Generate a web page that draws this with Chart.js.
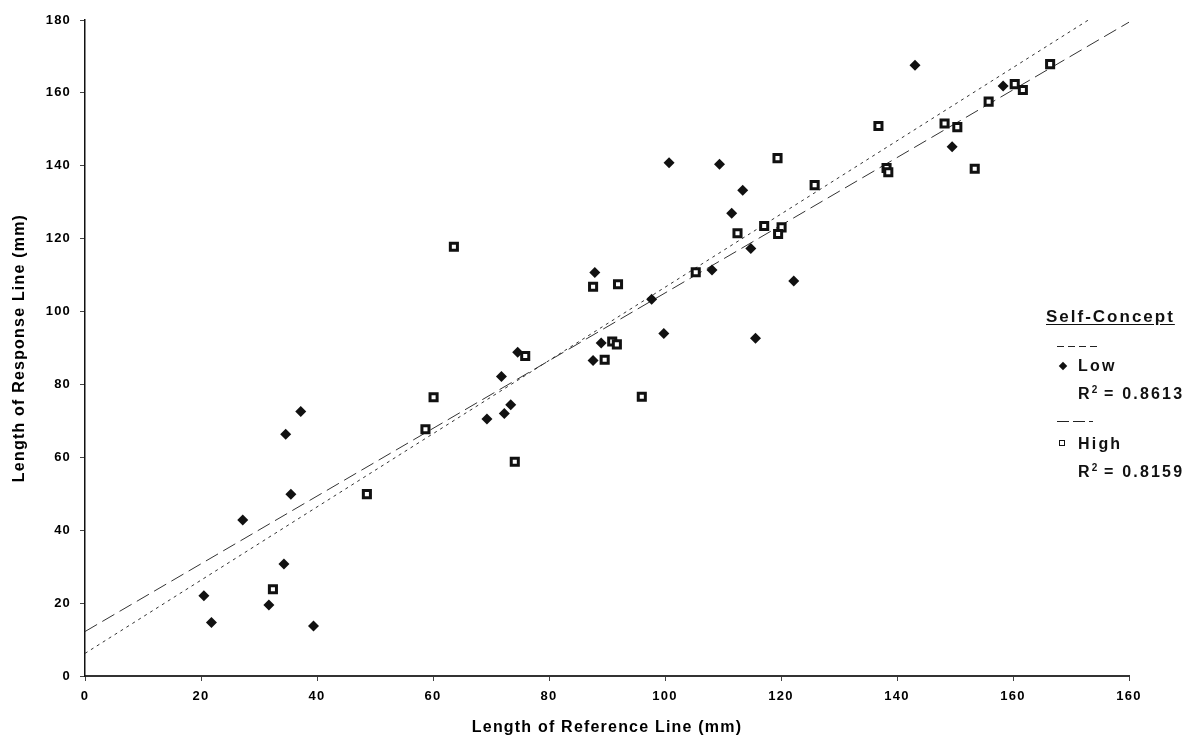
<!DOCTYPE html>
<html>
<head>
<meta charset="utf-8">
<title>Length of Response Line vs Length of Reference Line</title>
<script src="https://cdn.jsdelivr.net/npm/chart.js@4.4.1/dist/chart.umd.min.js"></script>
<style>
    html, body { margin: 0; padding: 0; background: #fff; }
    #wrap { position: relative; width: 1202px; height: 745px; }
    #chart { position: absolute; left: 0; top: 0; }
    .legend { position: absolute; left: 0; top: 0; font-family: "Liberation Sans", Arial, sans-serif; font-weight: bold; color: #111; }
    .legend div { position: absolute; white-space: nowrap; }
    .lg-title { left: 1046px; top: 307px; font-size: 17px; letter-spacing: 2px; text-decoration: underline; text-underline-offset: 2px; }
    .lg-text { font-size: 16px; letter-spacing: 2.2px; line-height: 18px; }
    .lg-text sup { font-size: 10px; letter-spacing: 0; vertical-align: 6px; line-height: 0; }
    .dash { height: 0; border-top: 1.5px solid #222; }
    .diamond { width: 6px; height: 6px; background: #111; transform: rotate(45deg); }
    .square { width: 4px; height: 4px; border: 1.5px solid #111; background: #fff; }
</style>
</head>
<body>
<div id="wrap">
    <canvas id="chart" width="1202" height="745"></canvas>
    <div class="legend">
        <div class="lg-title">Self-Concept</div>
        <div class="dash" style="left:1057px; top:346px; width:7px;"></div>
        <div class="dash" style="left:1068px; top:346px; width:7px;"></div>
        <div class="dash" style="left:1079px; top:346px; width:7px;"></div>
        <div class="dash" style="left:1090px; top:346px; width:7px;"></div>
        <div class="diamond" style="left:1060px; top:363px;"></div>
        <div class="lg-text" style="left:1078px; top:357px;">Low</div>
        <div class="lg-text" style="left:1078px; top:385px;">R<sup>2</sup> = 0.8613</div>
        <div class="dash" style="left:1057px; top:421px; width:12px;"></div>
        <div class="dash" style="left:1073px; top:421px; width:12px;"></div>
        <div class="dash" style="left:1089px; top:421px; width:4px;"></div>
        <div class="square" style="left:1059px; top:440px;"></div>
        <div class="lg-text" style="left:1078px; top:435px;">High</div>
        <div class="lg-text" style="left:1078px; top:463px;">R<sup>2</sup> = 0.8159</div>
    </div>
</div>
<script>
// Low self-concept group (filled diamonds)
const lowX = [20.5, 21.8, 27.2, 31.7, 34.3, 34.6, 35.5, 37.2, 39.4, 69.3,
              71.8, 72.3, 73.4, 74.6, 87.9, 87.6, 89.0, 97.7, 99.8, 100.7,
              108.1, 109.4, 111.5, 113.4, 114.8, 115.6, 122.2, 143.1, 149.5, 158.3];
const lowY = [22.0, 14.7, 42.8, 19.5, 30.7, 66.3, 49.9, 72.6, 13.7, 70.5,
              82.2, 72.0, 74.4, 88.8, 110.7, 86.6, 91.4, 103.4, 94.0, 140.8,
              111.4, 140.4, 127.0, 133.3, 117.3, 92.7, 108.4, 167.6, 145.2, 161.9];

// High self-concept group (open squares)
const highX = [32.4, 48.6, 58.7, 60.1, 63.6, 74.1, 75.9, 87.6, 89.6, 90.9,
               91.7, 91.9, 96.0, 105.3, 112.5, 117.1, 120.1, 119.5, 119.4, 125.8,
               136.8, 138.2, 138.5, 148.2, 150.4, 153.4, 155.8, 160.3, 161.7, 166.4];
const highY = [23.8, 49.9, 67.7, 76.5, 117.8, 58.8, 87.8, 106.8, 86.8, 91.8,
               91.0, 107.5, 76.6, 110.8, 121.5, 123.5, 123.1, 121.3, 142.1, 134.7,
               150.9, 139.4, 138.2, 151.6, 150.6, 139.2, 157.6, 162.4, 160.8, 167.9];

// linear trend lines (end points of each fitted line)
const lowTrendX = [0, 173];
const lowTrendY = [6.2, 180];
const highTrendX = [0, 180];
const highTrendY = [12.2, 179.4];

// tick labels as printed on the original (last x label repeats 160)
const xTickLabels = ["0", "20", "40", "60", "80", "100", "120", "140", "160", "160"];
const yTickLabels = ["0", "20", "40", "60", "80", "100", "120", "140", "160", "180"];

function toPoints(xs, ys) {
    return xs.map((x, i) => ({ x: x, y: ys[i] }));
}

const tickFont = { family: "'Liberation Sans', Arial, sans-serif", size: 13, weight: "bold" };
const titleFont = { family: "'Liberation Sans', Arial, sans-serif", size: 16, weight: "bold" };

// the original uses widely spaced bold type
const spacedText = {
    id: "spacedText",
    beforeDraw: function (chart) { chart.ctx.letterSpacing = "1.2px"; }
};

new Chart(document.getElementById("chart"), {
    type: "scatter",
    data: {
        datasets: [
            {
                label: "Low",
                data: toPoints(lowX, lowY),
                pointStyle: "rectRot",
                pointRadius: 5.5,
                backgroundColor: "#111",
                borderColor: "#111",
                borderWidth: 0,
                order: 1
            },
            {
                label: "High",
                data: toPoints(highX, highY),
                pointStyle: "rect",
                pointRadius: 5,
                backgroundColor: "#fff",
                borderColor: "#111",
                borderWidth: 3,
                order: 2
            },
            {
                label: "Low trend",
                data: toPoints(lowTrendX, lowTrendY),
                showLine: true,
                pointRadius: 0,
                borderColor: "#333",
                borderWidth: 1,
                borderDash: [3, 4],
                order: 3
            },
            {
                label: "High trend",
                data: toPoints(highTrendX, highTrendY),
                showLine: true,
                pointRadius: 0,
                borderColor: "#333",
                borderWidth: 1,
                borderDash: [14, 6],
                order: 4
            }
        ]
    },
    plugins: [spacedText],
    options: {
        responsive: false,
        animation: false,
        layout: { padding: { top: 20, right: 73, left: 0, bottom: 0 } },
        plugins: {
            legend: { display: false },
            tooltip: { enabled: false }
        },
        scales: {
            x: {
                type: "linear",
                min: 0,
                max: 180,
                afterFit: function (scale) { scale.height = 69; },
                afterBuildTicks: function (scale) {
                    scale.ticks = xTickLabels.map((t, i) => ({ value: i * 20 }));
                },
                ticks: {
                    callback: function (value, index) { return xTickLabels[index]; },
                    font: tickFont,
                    color: "#000",
                    padding: 8,
                    maxRotation: 0
                },
                grid: { drawOnChartArea: false, drawTicks: true, tickLength: 5, color: "#444" },
                border: { color: "#333", width: 2 },
                title: {
                    display: true,
                    text: "Length of Reference Line (mm)",
                    font: titleFont,
                    color: "#000",
                    padding: { top: 4, bottom: 8 }
                }
            },
            y: {
                type: "linear",
                min: 0,
                max: 180,
                afterFit: function (scale) { scale.width = 85; },
                afterBuildTicks: function (scale) {
                    scale.ticks = yTickLabels.map((t, i) => ({ value: i * 20 }));
                },
                ticks: {
                    callback: function (value, index) { return yTickLabels[index]; },
                    font: tickFont,
                    color: "#000",
                    padding: 9
                },
                grid: { drawOnChartArea: false, drawTicks: true, tickLength: 5, color: "#444" },
                border: { color: "#111", width: 1.5 },
                title: {
                    display: true,
                    text: "Length of Response Line (mm)",
                    font: titleFont,
                    color: "#000",
                    padding: { top: 10, bottom: 4 }
                }
            }
        }
    }
});
</script>
</body>
</html>
